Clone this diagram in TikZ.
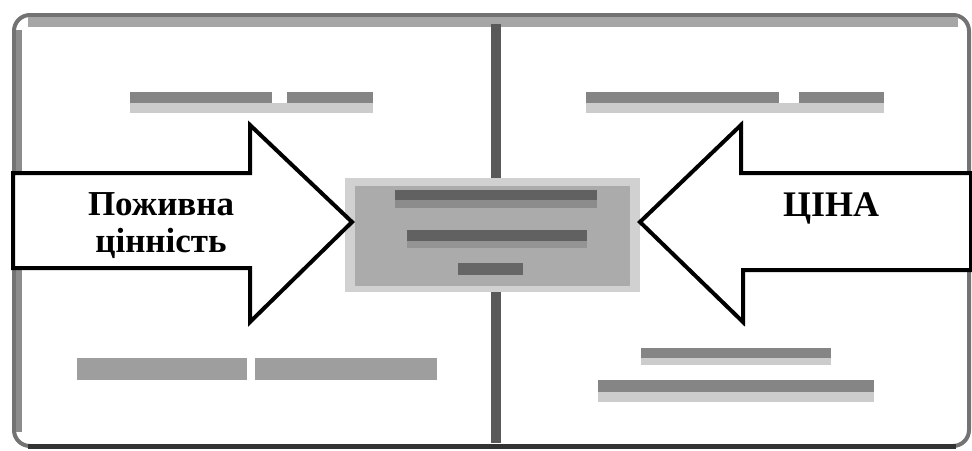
\documentclass[tikz,border=0pt]{standalone}
\usepackage{fontspec}
\setmainfont{Liberation Serif}
\begin{document}
\begin{tikzpicture}[x=1pt,y=-1pt,
  arrowshape/.style={draw=black,line width=4pt,fill=white,line join=miter},
  label/.style={font=\bfseries\fontsize{35}{37}\selectfont,align=center,inner sep=0pt},
  bardark/.style={fill=black!48},
  barlight/.style={fill=black!20},
  barmid/.style={fill=black!38}]
\useasboundingbox (0,0) rectangle (972,450);
\fill[white] (0,0) rectangle (972,450);
% frame
\draw[line width=4pt,draw=black!55,rounded corners=16pt] (14,15) rectangle (969,446);
\fill[black!35] (28,17) rectangle (958,27);
\fill[black!45] (16,30) rectangle (22,432);
\draw[line width=5pt,draw=black!80] (28,446) -- (956,446);
% divider
\fill[black!65] (491,24) rectangle (501,443);
% blurred captions
\fill[bardark] (130,92) rectangle (272,103);
\fill[bardark] (287,92) rectangle (373,103);
\fill[barlight] (130,103) rectangle (373,113);
\fill[bardark] (586,92) rectangle (779,103);
\fill[bardark] (799,92) rectangle (884,103);
\fill[barlight] (586,103) rectangle (884,113);
\fill[barmid] (77,358) rectangle (247,380);
\fill[barmid] (255,358) rectangle (437,380);
\fill[bardark] (641,348) rectangle (831,358);
\fill[barlight] (641,358) rectangle (831,365);
\fill[bardark] (598,380) rectangle (874,392);
\fill[barlight] (598,392) rectangle (874,402);
% central box
\node[fill=black!18,minimum width=295pt,minimum height=114pt,inner sep=0pt] (core) at (492.5,235) {};
\fill[black!33] (355,186) rectangle (630,286);
\fill[black!62] (395,190) rectangle (597,200);
\fill[black!45] (395,200) rectangle (597,208);
\fill[black!62] (407,230) rectangle (587,241);
\fill[black!42] (407,241) rectangle (587,248);
\fill[black!60] (458,263) rectangle (523,275);
% arrows
\coordinate (ltip) at (352,222);
\coordinate (rtip) at (640,222);
\draw[arrowshape] (13,173) -- (250,173) -- (250,125) -- (ltip) -- (250,322) -- (250,268) -- (13,268) -- cycle;
\draw[arrowshape] (971,173) -- (741,173) -- (741,125) -- (rtip) -- (743,322) -- (743,270) -- (971,270) -- cycle;
% labels
\node[label,anchor=base] (nut1) at (161,215) {Поживна};
\node[label,anchor=base] (nut2) at (161,252) {цінність};
\node[label,anchor=base,font=\bfseries\fontsize{36}{40}\selectfont] (price) at (831,216) {ЦІНА};
\end{tikzpicture}
\end{document}
